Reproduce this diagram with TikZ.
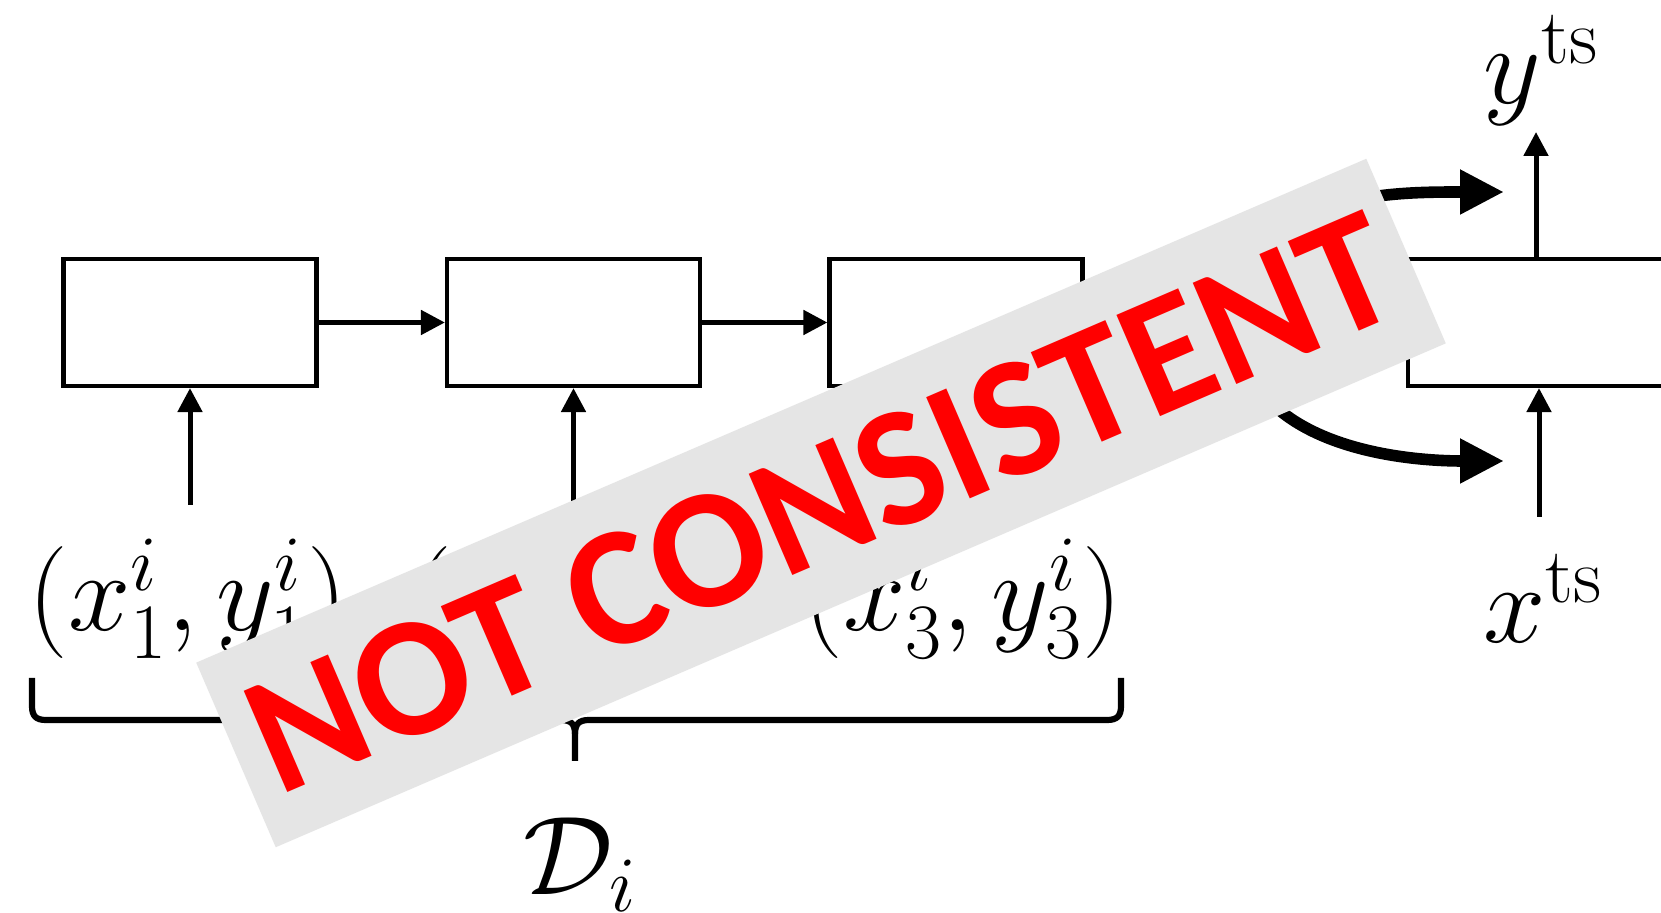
\RequirePackage{fix-cm}
\documentclass[tikz,border=0pt]{standalone}
\usepackage{fontspec}
\newfontfamily\stampfont{Carlito}
\usetikzlibrary{arrows.meta}
\definecolor{stampgray}{RGB}{229,229,229}
\definecolor{stampred}{RGB}{255,0,0}
\begin{document}
\begin{tikzpicture}[x=0.5pt,y=-0.5pt,
  blk/.style={draw,line width=2.1pt,minimum width=126.5pt,minimum height=63.5pt,inner sep=0pt},
  arr/.style={line width=2.5pt,-{Triangle[length=12pt,width=12pt]}},
  bigarr/.style={line width=5.8pt,-{Triangle[length=22pt,width=21pt]}},
  lbl/.style={inner sep=0pt,anchor=base,font=\fontsize{56}{62}\selectfont},
  bracestyle/.style={line width=3.1pt,line cap=butt},
  stampbox/.style={fill=stampgray,rotate=23.3,minimum width=637pt,minimum height=100.5pt,inner sep=0pt,text=stampred,font=\stampfont\bfseries\fontsize{85}{85}\selectfont},
]
\clip (0,0) rectangle (1661,913);
\fill[white] (0,0) rectangle (1661,913);

% boxes
\node[blk] (b1) at (190,322.5) {};
\node[blk] (b2) at (573.5,322.5) {};
\node[blk] (b3) at (956,322.5) {};
\node[blk,minimum width=300pt] (b4) at (1708,322.5) {};

\draw[arr] (b1.east) -- (b2.west);
\draw[arr] (b2.east) -- (b3.west);

% input labels
\node[lbl] (l1) at (188,631) {$(x_1^i,y_1^i)$};
\node[lbl] (l2) at (572,631) {$(x_2^i,y_2^i)$};
\node[lbl] (l3) at (963,631) {$(x_3^i,y_3^i)$};

\coordinate (a1) at ([yshift=17pt]l1.north);
\coordinate (a2) at ([yshift=17pt]l2.north);
\coordinate (a3) at ([yshift=17pt]l3.north);
\draw[arr] (a1 -| b1.south) -- (b1.south);
\draw[arr] (a2 -| b2.south) -- (b2.south);
\draw[arr] (a3 -| b3.south) -- (b3.south);

% brace
\coordinate (brL) at (32,678);
\coordinate (brR) at (1121,678);
\coordinate (brT) at (575,761);
\draw[bracestyle] (brL) -- (32,706) .. controls (32,716) and (36,720) .. (46,720)
  -- (561,720) .. controls (571,720) and (575,724) .. (575,734) -- (brT);
\draw[bracestyle] (575,734) .. controls (575,724) and (579,720) .. (589,720)
  -- (1107,720) .. controls (1117,720) and (1121,716) .. (1121,706) -- (brR);
\node[lbl] (D) at (580,895) {$\mathcal{D}_i$};

% test part
\node[lbl] (yts) at (1541,104) {$y^{\mathrm{ts}}$};
\node[lbl] (xts) at (1543,643) {$x^{\mathrm{ts}}$};
\coordinate (ytip) at (1536,132);
\coordinate (xfoot) at (1539,517);
\draw[arr] (ytip |- b4.north) -- (ytip);
\draw[arr] (xfoot) -- (xfoot |- b4.south);

% curved arrows
\coordinate (c1) at (1230,300);
\coordinate (c2) at (1240,350);
\coordinate (t1) at (1504,192);
\coordinate (t2) at (1504,461);
\draw[bigarr] (c1) to[out=70,in=180] (t1);
\draw[bigarr] (c2) to[out=-75,in=180,looseness=0.9] (t2);

% stamp
\node[stampbox] (stamp) at (821,503) {NOT CONSISTENT};
\end{tikzpicture}
\end{document}
